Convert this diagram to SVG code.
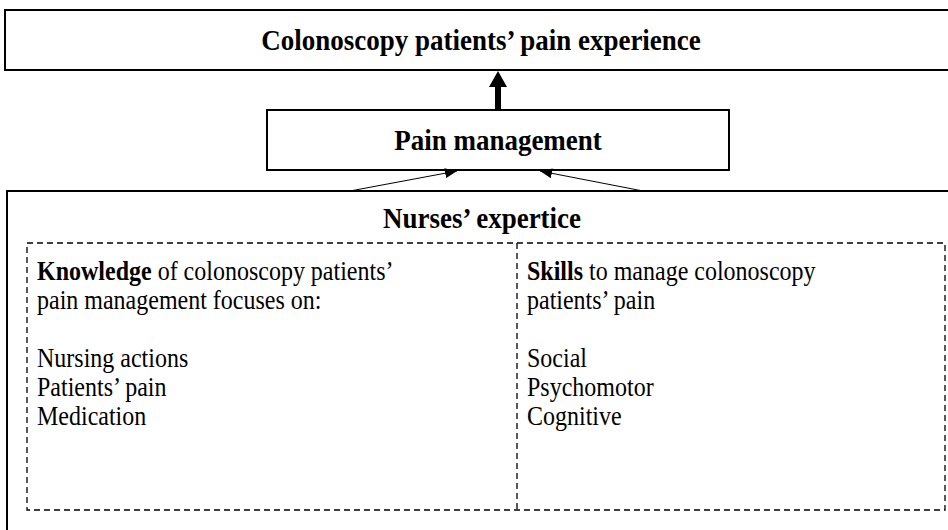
<svg xmlns="http://www.w3.org/2000/svg" width="948" height="530" viewBox="0 0 948 530">
<style>
.box{fill:#fff;stroke:#000;stroke-width:2}
.dash{fill:none;stroke:#000;stroke-width:1.3;stroke-dasharray:6,4}
.t{font-family:"Liberation Serif","Times New Roman",serif;font-size:24px;fill:#000}
.b{font-weight:bold;font-size:27px}
.c{text-anchor:middle}
.thin{stroke:#000;stroke-width:1;fill:none}
</style>
<defs>
<marker id="ah" viewBox="0 0 12 10" refX="12" refY="5" markerWidth="12" markerHeight="10" markerUnits="userSpaceOnUse" orient="auto"><path d="M0,0 L12,5 L0,10 z" fill="#000"/></marker>
</defs>
<g id="outcome">
<rect class="box" x="5" y="10" width="960" height="60"/>
<text class="t b c" transform="translate(481,50) scale(1,1.1)">Colonoscopy patients’ pain experience</text>
</g>
<g id="pain-management">
<rect class="box" x="267" y="110" width="462" height="60"/>
<text class="t b c" transform="translate(498,150) scale(1,1.1)">Pain management</text>
</g>
<g id="nurses-expertice">
<rect class="box" x="7" y="191" width="960" height="360"/>
<text class="t b c" transform="translate(482,228) scale(1,1.1)">Nurses’ expertice</text>
<rect class="dash" x="27" y="243" width="918" height="267"/>
<line class="dash" x1="517" y1="243" x2="517" y2="510"/>
<text class="t" transform="translate(37,280) scale(1,1.1)"><tspan font-weight="bold">Knowledge</tspan> of colonoscopy patients’</text>
<text class="t" transform="translate(37,309) scale(1,1.1)">pain management focuses on:</text>
<text class="t" transform="translate(37,367) scale(1,1.1)">Nursing actions</text>
<text class="t" transform="translate(37,396) scale(1,1.1)">Patients’ pain</text>
<text class="t" transform="translate(37,425) scale(1,1.1)">Medication</text>
<text class="t" transform="translate(527,280) scale(1,1.1)"><tspan font-weight="bold">Skills</tspan> to manage colonoscopy</text>
<text class="t" transform="translate(527,309) scale(1,1.1)">patients’ pain</text>
<text class="t" transform="translate(527,367) scale(1,1.1)">Social</text>
<text class="t" transform="translate(527,396) scale(1,1.1)">Psychomotor</text>
<text class="t" transform="translate(527,425) scale(1,1.1)">Cognitive</text>
</g>
<g id="connectors">
<line x1="498" y1="110" x2="498" y2="86" stroke="#000" stroke-width="6"/>
<path d="M489,87 L498,71 L507,87 z" fill="#000"/>
<line class="thin" x1="350" y1="191" x2="457" y2="171" marker-end="url(#ah)"/>
<line class="thin" x1="643" y1="191" x2="540" y2="171" marker-end="url(#ah)"/>
</g>
</svg>
